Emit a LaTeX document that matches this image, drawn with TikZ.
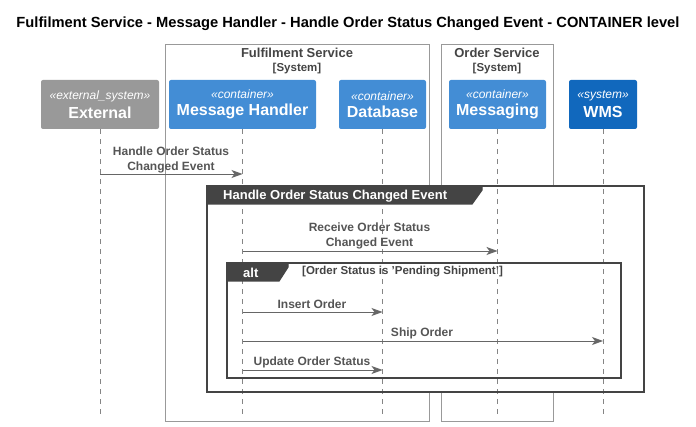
\documentclass[tikz,border=0pt]{standalone}
\usepackage{fontspec}
\setmainfont{Liberation Sans}
\usetikzlibrary{arrows.meta}
\definecolor{extgray}{HTML}{999999}
\definecolor{contblue}{HTML}{438DD5}
\definecolor{sysblue}{HTML}{1168BD}
\definecolor{bndgray}{HTML}{999999}
\definecolor{framedark}{HTML}{444444}
\definecolor{msggray}{HTML}{666666}
\definecolor{lblgray}{HTML}{555555}
\newcommand\stereofnt{\fontsize{12}{13}\selectfont\itshape}
\newcommand\pnamefnt{\fontsize{16}{18}\selectfont\bfseries}
\tikzset{
  pbox/.style={rounded corners=2pt, draw=none, text=white, align=center, minimum height=49pt, inner sep=0pt},
  boundary/.style={draw=bndgray, line width=0.8pt},
  bndlabel/.style={font=\fontsize{13}{15}\selectfont\bfseries, text=framedark, align=center, inner sep=0pt},
  lifeline/.style={draw=msggray!80, dash pattern=on 5pt off 5pt, line width=0.6pt},
  msg/.style={draw=msggray, line width=0.8pt, -{Stealth[length=11pt,width=8pt,inset=3pt]}},
  msglabel/.style={font=\fontsize{12}{15}\selectfont\bfseries, text=lblgray, align=center, inner sep=0pt},
  grfill/.style={fill=white, draw=none},
  grframe/.style={draw=framedark, line width=1.3pt},
  tab/.style={fill=framedark, draw=framedark, line width=1.3pt},
  tablabel/.style={font=\fontsize{13}{15}\selectfont\bfseries, text=white, anchor=west, inner sep=0pt},
  guard/.style={font=\fontsize{11.5}{13}\selectfont\bfseries, text=framedark, anchor=west, inner sep=0pt}
}
\begin{document}
\begin{tikzpicture}[x=1pt,y=-1pt]
\useasboundingbox (0,0) rectangle (696,427);
% title
\node[font=\fontsize{14.7}{16}\selectfont\bfseries, inner sep=0pt] (title) at (348,24) {Fulfilment Service - Message Handler - Handle Order Status Changed Event - CONTAINER level};
% boundaries
\draw[boundary] (165,44) rectangle (429,421);
\node[bndlabel] (fslabel) at (297,61) {Fulfilment Service\\[-1.5pt]{\fontsize{11.5}{13}\selectfont[System]}};
\draw[boundary] (441,44) rectangle (553,421);
\node[bndlabel] (oslabel) at (497,61) {Order Service\\[-1.5pt]{\fontsize{11.5}{13}\selectfont[System]}};
% participants
\node[pbox, fill=extgray, minimum width=118pt] (ext) at (100,104.5) {\raisebox{-1pt}{\stereofnt «external\_system»}\\[4pt]{\pnamefnt External}};
\node[pbox, fill=contblue, minimum width=147pt] (mh) at (242.5,104.5) {\raisebox{-1pt}{\stereofnt «container»}\\[4pt]{\pnamefnt Message Handler}};
\node[pbox, fill=contblue, minimum width=87pt] (db) at (382.5,104.5) {\raisebox{-1pt}{\stereofnt «container»}\\[4pt]{\pnamefnt Database}};
\node[pbox, fill=contblue, minimum width=97pt] (mq) at (497.5,104.5) {\raisebox{-1pt}{\stereofnt «container»}\\[4pt]{\pnamefnt Messaging}};
\node[pbox, fill=sysblue, minimum width=68pt] (wms) at (603,104.5) {\raisebox{-1pt}{\stereofnt «system»}\\[4pt]{\pnamefnt WMS}};
% frame backgrounds
\fill[grfill] (207,186) rectangle (644,392);
% lifelines
\coordinate (bottom) at (0,415);
\draw[lifeline] (ext.south) -- (ext |- bottom);
\draw[lifeline] (mh.south) -- (mh |- bottom);
\draw[lifeline] (db.south) -- (db |- bottom);
\draw[lifeline] (mq.south) -- (mq |- bottom);
\draw[lifeline] (wms.south) -- (wms |- bottom);
% frames
\draw[grframe] (207,186) rectangle (644,392);
\filldraw[tab] (207,186) -- (482,186) -- (482,190) -- (472,204) -- (207,204) -- cycle;
\node[tablabel] (grplabel) at (223,196) {Handle Order Status Changed Event};
\draw[grframe] (227,263) rectangle (621,378);
\filldraw[tab] (227,263) -- (288,263) -- (288,267) -- (279,281) -- (227,281) -- cycle;
\node[tablabel] (altlabel) at (243,272.5) {alt};
\node[guard] (guardlabel) at (302,272) {[Order Status is 'Pending Shipment']};
% message rows
\coordinate (r1) at (0,174);
\coordinate (r2) at (0,251);
\coordinate (r3) at (0,312);
\coordinate (r4) at (0,341);
\coordinate (r5) at (0,370);
\draw[msg] (ext |- r1) -- (mh |- r1);
\node[msglabel] (l1) at (171,159.5) {Handle Order Status\\Changed Event};
\draw[msg] (mh |- r2) -- (mq |- r2);
\node[msglabel] (l2) at (369.5,235.5) {Receive Order Status\\Changed Event};
\draw[msg] (mh |- r3) -- (db |- r3);
\node[msglabel] (l3) at (312,304) {Insert Order};
\draw[msg] (mh |- r4) -- (wms |- r4);
\node[msglabel] (l4) at (422,333) {Ship Order};
\draw[msg] (mh |- r5) -- (db |- r5);
\node[msglabel] (l5) at (312,362.5) {Update Order Status};
\end{tikzpicture}
\end{document}
